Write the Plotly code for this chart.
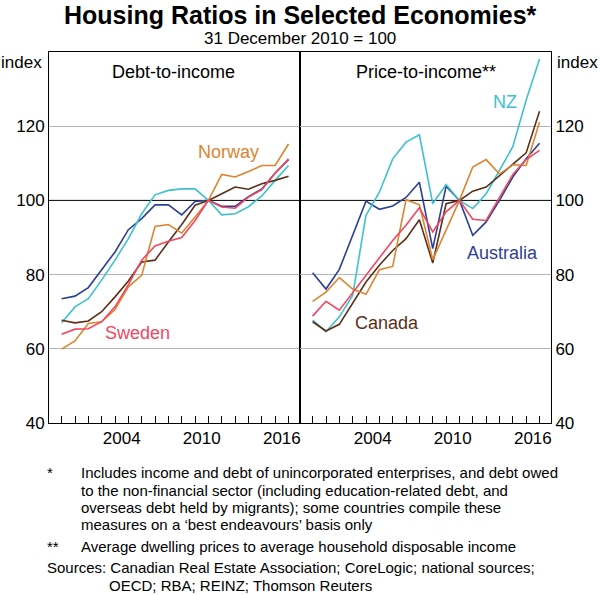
import plotly.graph_objects as go

# ---------------- data (Dec of each year, 31 Dec 2010 = 100) ----------------
years = list(range(1999, 2017))
label_years = [2004, 2010, 2016]
tick_years = list(range(2000, 2018))
y_ticks = [40, 60, 80, 100, 120]
y_grid = [60, 80, 120]

debt_australia = [73.5, 74.2, 76.5, 81.2, 86.1, 92.1, 95.1, 98.8, 98.8, 96.1, 99.7, 100, 98.4, 98.4, 101.0, 103.1, 107.4, 111.0]
debt_nz        = [67.0, 71.3, 73.5, 78.5, 83.9, 89.7, 96.4, 101.5, 102.7, 103.1, 103.1, 100, 96.1, 96.4, 98.3, 101.2, 105.4, 109.4]
debt_canada    = [67.7, 67.0, 67.5, 70.0, 74.0, 78.3, 83.4, 83.9, 88.8, 93.5, 98.7, 100, 101.8, 103.6, 103.0, 104.5, 105.4, 106.5]
debt_norway    = [59.9, 62.1, 66.8, 67.3, 70.6, 76.7, 79.8, 93.0, 93.5, 91.2, 95.5, 100, 107.0, 106.3, 107.8, 109.4, 109.4, 115.2]
debt_sweden    = [63.9, 65.3, 65.4, 67.3, 71.3, 77.3, 83.9, 87.7, 89.0, 90.0, 94.6, 100, 98.2, 97.9, 100.9, 102.9, 107.3, 111.2]

price_australia = [80.5, 76.1, 81.4, 90.6, 99.8, 97.6, 98.5, 100.8, 104.9, 87.0, 103.8, 100, 90.6, 94.2, 100.0, 106.3, 111.2, 115.4]
price_nz        = [67.7, 64.6, 68.6, 74.4, 96.0, 102.2, 111.2, 115.7, 117.7, 99.1, 104.3, 100, 97.8, 101.8, 108.1, 114.5, 127.0, 138.1]
price_canada    = [67.3, 64.8, 66.6, 72.2, 78.0, 82.5, 86.5, 89.7, 94.8, 83.1, 99.1, 100, 102.5, 103.6, 106.7, 109.9, 112.8, 124.0]
price_norway    = [72.8, 75.3, 79.2, 76.1, 74.7, 81.3, 82.2, 100.2, 98.8, 84.0, 92.0, 100, 109.0, 111.0, 107.1, 109.6, 109.4, 121.1]
price_sweden    = [68.8, 72.8, 70.4, 75.1, 79.6, 84.6, 89.2, 93.3, 98.0, 91.5, 96.9, 100, 94.9, 94.6, 100.7, 107.0, 111.0, 113.5]

colors = {
    "Australia": "#2b3f96",
    "NZ": "#3ec1cf",
    "Canada": "#5b2f18",
    "Norway": "#dd8431",
    "Sweden": "#f2475f",
}

FONT = "Liberation Sans, Arial, sans-serif"
W, H = 600, 595
ML, MR, MT, MB = 49, 49, 52, 172
PW, PH = W - ML - MR, H - MT - MB

def px(x):
    return (x - ML) / PW

def py(y):
    return (H - MB - y) / PH

dates = [f"{y}-12-31" for y in years]
x_range = ["1999-01-20", "2017-11-10"]

fig = go.Figure()

left = [("Australia", debt_australia), ("NZ", debt_nz), ("Canada", debt_canada),
        ("Norway", debt_norway), ("Sweden", debt_sweden)]
right = [("Australia", price_australia), ("NZ", price_nz), ("Canada", price_canada),
         ("Norway", price_norway), ("Sweden", price_sweden)]

for name, vals in left:
    fig.add_trace(go.Scatter(x=dates, y=vals, mode="lines", name=name,
                             line=dict(color=colors[name], width=1.6),
                             xaxis="x", yaxis="y", showlegend=False))
for name, vals in right:
    fig.add_trace(go.Scatter(x=dates, y=vals, mode="lines", name=name,
                             line=dict(color=colors[name], width=1.6),
                             xaxis="x2", yaxis="y2", showlegend=False))

tickfont = dict(family=FONT, size=17, color="black")

def xaxis_cfg(domain, anchor):
    return dict(
        domain=domain, anchor=anchor, type="date", range=x_range,
        tickmode="array",
        tickvals=[f"{y}-07-01" for y in label_years],
        ticktext=[str(y) for y in label_years],
        ticks="", tickfont=tickfont,
        minor=dict(tickmode="array", tickvals=[f"{y}-01-01" for y in tick_years],
                   ticks="inside", ticklen=7, tickwidth=1, tickcolor="black",
                   showgrid=False),
        showgrid=False, showline=True, linecolor="black", linewidth=1,
        mirror=True, zeroline=False, fixedrange=True,
    )

def yaxis_cfg(anchor, side):
    return dict(
        anchor=anchor, side=side, range=[40, 140], tickmode="array",
        tickvals=y_ticks, ticktext=[str(v) for v in y_ticks],
        ticks="", tickfont=tickfont, showgrid=False,
        minor=dict(tickmode="array", tickvals=y_grid, ticks="", showgrid=True,
                   gridcolor="#b5b5b5", gridwidth=1),
        showline=True, linecolor="black", linewidth=1,
        mirror=True, zeroline=False, domain=[0, 1], fixedrange=True,
    )

fig.update_layout(
    width=W, height=H,
    margin=dict(l=ML, r=MR, t=MT, b=MB, pad=0),
    paper_bgcolor="white", plot_bgcolor="white",
    font=dict(family=FONT, color="black"),
    xaxis=xaxis_cfg([0, 0.5], "y"),
    xaxis2=xaxis_cfg([0.5, 1], "y2"),
    yaxis=yaxis_cfg("x", "left"),
    yaxis2=yaxis_cfg("x2", "right"),
)

# 100 reference line in each panel
for xr, yr in [("x", "y"), ("x2", "y2")]:
    fig.add_shape(type="line", xref=f"{xr} domain", yref=yr, x0=0, x1=1, y0=100, y1=100,
                  line=dict(color="black", width=1), layer="below")

ann = []
def text(x, y, s, size=17, anchor="center", color="black", bold=False):
    ann.append(dict(x=px(x), y=py(y), xref="paper", yref="paper", text=(f"<b>{s}</b>" if bold else s),
                    showarrow=False, xanchor=anchor, yanchor="middle",
                    font=dict(family=FONT, size=size, color=color)))

text(300, 15, "Housing Ratios in Selected Economies*", size=25, bold=True)
text(300, 38, "31 December 2010 = 100", size=17)
text(44, 62, "index", anchor="right")
text(555, 62, "index", anchor="left")
text(173, 72, "Debt-to-income", size=18)
text(426, 72, "Price-to-income**", size=18)
text(228, 152, "Norway", size=18, color=colors["Norway"])
text(137, 333, "Sweden", size=18, color=colors["Sweden"])
text(505, 102, "NZ", size=18, color=colors["NZ"])
text(502, 253, "Australia", size=18, color=colors["Australia"])
text(387, 323, "Canada", size=18, color=colors["Canada"])

fn = 15
text(45, 472, "*", size=fn, anchor="left")
text(79, 472, "Includes income and debt of unincorporated enterprises, and debt owed", size=fn, anchor="left")
text(79, 490, "to the non-financial sector (including education-related debt, and", size=fn, anchor="left")
text(79, 507, "overseas debt held by migrants); some countries compile these", size=fn, anchor="left")
text(79, 524, "measures on a \u2018best endeavours\u2019 basis only", size=fn, anchor="left")
text(45, 546, "**", size=fn, anchor="left")
text(79, 546, "Average dwelling prices to average household disposable income", size=fn, anchor="left")
text(45, 567, "Sources: Canadian Real Estate Association; CoreLogic; national sources;", size=fn, anchor="left")
text(107, 585, "OECD; RBA; REINZ; Thomson Reuters", size=fn, anchor="left")

fig.update_layout(annotations=ann)

fig.write_html("out.html", config={"displayModeBar": False},
               post_script="document.body.style.margin='0';document.body.style.overflow='hidden';")
